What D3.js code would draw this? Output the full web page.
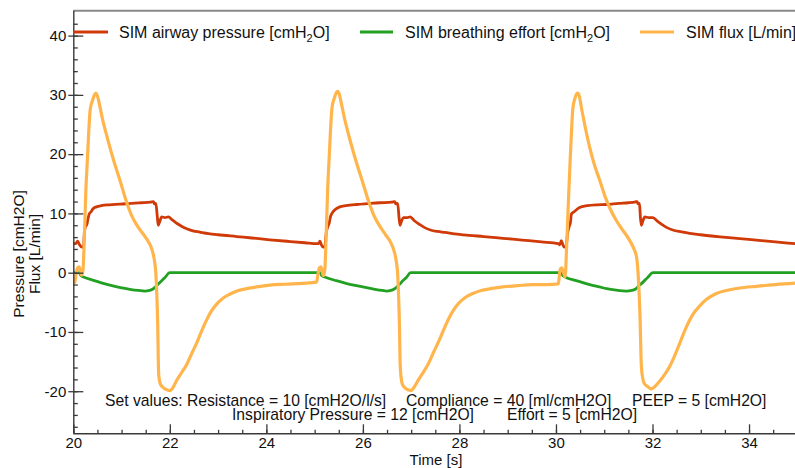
<!DOCTYPE html>
<html>
<head>
<meta charset="utf-8">
<script src="https://cdn.jsdelivr.net/npm/d3@7"></script>
<style>
  html, body { margin: 0; padding: 0; background: #fff; }
  svg { display: block; font-family: "Liberation Sans", Arial, sans-serif; }
</style>
</head>
<body>
<svg id="chart" width="795" height="468"></svg>
<script>
// ---- data ----
const xTicks = [20, 22, 24, 26, 28, 30, 32, 34];
const yTicks = [-20, -10, 0, 10, 20, 30, 40];
const xDomain = [20, 35];
const yDomain = [-27.1, 44.2];

const seriesNames = ["SIM airway pressure [cmH", "SIM breathing effort [cmH", "SIM flux [L/min]"];

// time [s]
const pressureT = [20.00,20.05,20.09,20.13,20.18,20.21,20.23,20.25,20.28,20.30,20.33,20.36,20.41,20.48,20.58,20.75,20.97,21.20,21.40,21.60,21.66,21.68,21.71,21.74,21.76,21.79,21.83,21.90,21.97,22.05,22.15,22.25,22.35,22.48,22.62,22.80,23.00,23.38,23.70,24.07,24.50,24.80,25.05,
  25.08,25.11,25.14,25.18,25.21,25.24,25.27,25.30,25.33,25.36,25.42,25.52,25.65,25.87,26.10,26.35,26.60,26.66,26.68,26.72,26.75,26.77,26.80,26.84,26.92,26.98,27.06,27.18,27.28,27.40,27.55,27.70,27.90,28.20,28.50,28.90,29.30,29.70,30.05,
  30.08,30.11,30.14,30.17,30.21,30.24,30.27,30.30,30.32,30.38,30.49,30.65,30.85,31.05,31.30,31.50,31.65,31.68,31.70,31.73,31.75,31.77,31.80,31.84,31.92,32.01,32.10,32.20,32.30,32.42,32.60,32.77,33.00,33.40,33.81,34.20,34.60,35.00];
const pressureV = [4.9,4.9,5.3,4.7,4.3,4.3,6.8,7.7,8.1,8.9,9.9,10.2,10.8,11.1,11.3,11.45,11.55,11.7,11.8,11.9,12.0,11.6,11.7,9.5,8.0,8.6,9.4,9.3,9.4,8.9,8.3,7.8,7.4,7.05,6.85,6.6,6.4,6.1,5.85,5.55,5.25,5.05,4.9,
  4.9,5.3,4.7,4.3,4.4,6.7,7.7,8.3,9.5,10.0,10.6,11.1,11.3,11.5,11.65,11.8,11.9,12.0,11.6,11.7,9.2,8.0,8.7,9.3,9.3,9.4,8.8,8.1,7.6,7.2,6.95,6.8,6.55,6.3,6.1,5.8,5.5,5.2,4.9,
  4.7,5.4,4.8,4.3,4.4,6.6,7.7,8.5,9.9,10.3,11.0,11.3,11.45,11.5,11.7,11.8,11.95,12.0,11.6,11.7,9.3,8.0,8.7,9.4,9.3,9.3,8.7,8.1,7.6,7.2,6.9,6.65,6.4,6.05,5.75,5.45,5.15,4.85];

const effortT = [20.00,20.12,20.16,20.25,20.40,20.60,20.80,21.00,21.20,21.35,21.48,21.58,21.65,21.72,21.80,21.90,22.00,
  25.11,25.15,25.25,25.45,25.65,25.87,26.05,26.25,26.40,26.49,26.58,26.65,26.72,26.80,26.90,26.99,
  30.10,30.14,30.22,30.40,30.70,30.90,31.05,31.25,31.46,31.57,31.65,31.72,31.81,31.90,32.01,35.00];
const effortV = [0,0,-0.5,-0.85,-1.25,-1.75,-2.2,-2.55,-2.85,-3.0,-3.1,-3.0,-2.75,-2.25,-1.6,-0.8,0,
  0,-0.5,-0.85,-1.35,-1.8,-2.2,-2.5,-2.8,-3.0,-3.1,-3.0,-2.75,-2.3,-1.6,-0.8,0,
  0,-0.5,-0.85,-1.3,-2.0,-2.4,-2.7,-2.95,-3.1,-3.0,-2.75,-2.2,-1.55,-0.8,0,0];

const fluxT = [20.00,20.03,20.06,20.09,20.12,20.15,20.17,20.20,20.22,20.24,20.26,20.29,20.32,20.35,20.40,20.44,20.47,20.50,20.55,20.60,20.68,20.76,20.86,20.97,21.10,21.20,21.31,21.45,21.55,21.63,21.68,21.71,21.73,21.75,21.76,21.77,21.80,21.85,21.92,22.00,22.07,22.14,22.25,22.35,22.45,22.56,22.66,22.76,22.86,22.97,23.10,23.25,23.42,23.59,23.80,24.07,24.40,24.76,25.04,
  25.07,25.10,25.13,25.16,25.18,25.21,25.23,25.25,25.27,25.30,25.33,25.36,25.41,25.45,25.48,25.51,25.56,25.62,25.70,25.78,25.88,25.99,26.12,26.22,26.33,26.47,26.57,26.64,26.69,26.72,26.74,26.76,26.77,26.79,26.82,26.88,26.95,27.00,27.07,27.15,27.26,27.36,27.46,27.57,27.67,27.77,27.87,27.98,28.12,28.28,28.45,28.65,28.90,29.20,29.50,29.81,30.05,
  30.07,30.09,30.12,30.15,30.19,30.22,30.25,30.29,30.32,30.35,30.40,30.445,30.48,30.53,30.60,30.70,30.80,30.91,31.01,31.11,31.25,31.39,31.50,31.60,31.67,31.71,31.74,31.77,31.80,31.83,31.90,31.97,32.05,32.14,32.25,32.35,32.45,32.56,32.70,32.84,32.98,33.12,33.30,33.53,33.80,34.15,34.55,35.00];
const fluxV = [-1.8,-1.6,-0.1,0.8,1.0,0.2,-0.4,0.3,3.8,8.6,13.8,18.8,23.8,27.5,29.1,30.0,30.3,29.8,28.1,26.1,23.5,21.1,18.3,15.5,12.0,9.8,8.1,6.5,5.3,3.9,2.1,-0.1,-3.6,-9.2,-14.3,-17.3,-18.7,-19.3,-19.7,-19.9,-19.3,-18.2,-16.8,-15.5,-13.7,-11.8,-9.8,-8.0,-6.5,-5.3,-4.3,-3.6,-3.0,-2.7,-2.4,-2.1,-1.95,-1.8,-1.6,
  -0.2,0.8,1.0,0.1,-0.5,0.4,4.0,9.0,14.0,19.2,24.2,27.8,29.5,30.4,30.6,30.1,28.3,26.0,23.4,21.0,18.2,15.4,12.0,9.8,8.1,6.4,5.2,3.8,2.0,-0.2,-4.0,-10.0,-15.0,-17.6,-18.9,-19.5,-19.8,-19.9,-19.2,-18.1,-16.7,-15.3,-13.5,-11.6,-9.7,-7.9,-6.4,-5.2,-4.2,-3.5,-3.0,-2.7,-2.4,-2.2,-2.0,-2.0,-1.9,
  -0.5,0.6,0.8,0.2,-0.7,4.2,10.5,18.2,23.5,27.7,29.6,30.3,29.9,27.7,24.8,21.1,18.1,15.5,13.0,11.0,8.8,7.1,5.8,4.3,2.6,-1.3,-7.0,-15.9,-17.9,-18.7,-19.2,-19.6,-19.2,-18.4,-17.2,-15.9,-14.2,-12.0,-9.2,-7.0,-5.6,-4.5,-3.6,-3.0,-2.6,-2.3,-2.0,-1.75];

const annotLine1 = ["Set values: Resistance = 10 [cmH2O/l/s]", "Compliance = 40 [ml/cmH2O]", "PEEP = 5 [cmH2O]"];
const annotLine2 = ["Inspiratory Pressure = 12 [cmH2O]", "Effort = 5 [cmH2O]"];

// ---- styles ----
const colors = ["#cf3a08", "#22a022", "#ffb54c"];
const W = 795, H = 468;
const svg = d3.select("#chart");

const x = d3.scaleLinear().domain(xDomain).range([73.3, 797.3]);
const y = d3.scaleLinear().domain(yDomain).range([433.3, 10.7]);

const axisColor = "#3a3a3a";
const fmt = d => String(d);

// top frame
svg.append("line").attr("x1", x(20)).attr("x2", W).attr("y1", y(yDomain[1])).attr("y2", y(yDomain[1]))
  .attr("stroke", "#8a8a8a").attr("stroke-width", 2);

// clip
svg.append("clipPath").attr("id", "clip").append("rect")
  .attr("x", x(20)).attr("y", y(yDomain[1])).attr("width", W - x(20)).attr("height", y(yDomain[0]) - y(yDomain[1]));

const series = [
  {t: pressureT, v: pressureV},
  {t: effortT, v: effortV},
  {t: fluxT, v: fluxV}
];
const line = d3.line().x(d => x(d[0])).y(d => y(d[1])).curve(d3.curveMonotoneX);
const gLines = svg.append("g").attr("clip-path", "url(#clip)");
series.forEach((s, i) => {
  const pts = s.t.map((t, k) => [t, s.v[k]]);
  gLines.append("path").datum(pts).attr("d", line)
    .attr("fill", "none").attr("stroke", colors[i])
    .attr("stroke-width", i === 2 ? 3.2 : 2.8)
    .attr("stroke-linejoin", "round").attr("stroke-linecap", "round");
});

// axes
const xMinor = d3.range(20, 35.01, 0.5);
const yMinor = d3.range(-26, 44, 2);

function styleAxis(g) {
  g.selectAll("path.domain").attr("stroke", axisColor).attr("stroke-width", 1.4);
  g.selectAll(".tick line").attr("stroke", axisColor).attr("stroke-width", 1.3);
  g.selectAll(".tick text").attr("fill", "#111").style("font-size", "15px")
    .style("font-family", '"Liberation Sans", Arial, sans-serif');
}

const gxMinor = svg.append("g").attr("transform", `translate(0,${y(yDomain[0])})`)
  .call(d3.axisBottom(x).tickValues(xMinor).tickSizeInner(-3.5).tickSizeOuter(0).tickFormat(""));
gxMinor.select(".domain").remove(); styleAxis(gxMinor);
const gx = svg.append("g").attr("transform", `translate(0,${y(yDomain[0])})`)
  .call(d3.axisBottom(x).tickValues(xTicks).tickSizeInner(-9).tickSizeOuter(0).tickPadding(4).tickFormat(fmt));
styleAxis(gx);
gx.select(".domain").attr("d", `M${x(20)},0.5H${W}`);

const gyMinor = svg.append("g").attr("transform", `translate(${x(20)},0)`)
  .call(d3.axisLeft(y).tickValues(yMinor).tickSizeInner(-4.5).tickSizeOuter(0).tickFormat(""));
gyMinor.select(".domain").remove(); styleAxis(gyMinor);
const gyIn = svg.append("g").attr("transform", `translate(${x(20)},0)`)
  .call(d3.axisLeft(y).tickValues(yTicks).tickSizeInner(-10).tickSizeOuter(0).tickFormat(""));
gyIn.select(".domain").remove(); styleAxis(gyIn);
const gy = svg.append("g").attr("transform", `translate(${x(20)},0)`)
  .call(d3.axisLeft(y).tickValues(yTicks).tickSizeInner(5).tickSizeOuter(0).tickPadding(2).tickFormat(fmt));
styleAxis(gy);
gy.select(".domain").attr("d", `M0.5,${y(yDomain[1])}V${y(yDomain[0])}`);

// axis titles
svg.append("text").attr("x", 436).attr("y", 465).attr("text-anchor", "middle")
  .style("font-size", "15px").attr("fill", "#111").text("Time [s]");
svg.append("text").attr("transform", "translate(24,254) rotate(-90)").attr("text-anchor", "middle")
  .style("font-size", "15.5px").attr("fill", "#111").text("Pressure [cmH2O]");
svg.append("text").attr("transform", "translate(40,254) rotate(-90)").attr("text-anchor", "middle")
  .style("font-size", "15.5px").attr("fill", "#111").text("Flux [L/min]");

// legend
const legendItems = [
  {x0: 73, x1: 108, tx: 119, name: seriesNames[0], sub: true},
  {x0: 360, x1: 393, tx: 405, name: seriesNames[1], sub: true},
  {x0: 640, x1: 674, tx: 686, name: seriesNames[2], sub: false}
];
legendItems.forEach((it, i) => {
  svg.append("line").attr("x1", it.x0).attr("x2", it.x1).attr("y1", 32).attr("y2", 32)
    .attr("stroke", colors[i]).attr("stroke-width", 3);
  const t = svg.append("text").attr("x", it.tx).attr("y", 37.5).style("font-size", "16px").attr("fill", "#111");
  t.append("tspan").text(it.name);
  if (it.sub) {
    t.append("tspan").attr("dy", 4).style("font-size", "11px").text("2");
    t.append("tspan").attr("dy", -4).text("O]");
  }
});

// annotation
const a1x = [105, 406, 632], a2x = [232, 507];
annotLine1.forEach((s, i) => svg.append("text").attr("x", a1x[i]).attr("y", 405.5)
  .style("font-size", "15.7px").attr("fill", "#111").text(s));
annotLine2.forEach((s, i) => svg.append("text").attr("x", a2x[i]).attr("y", 419.5)
  .style("font-size", "15.7px").attr("fill", "#111").text(s));
</script>
</body>
</html>
